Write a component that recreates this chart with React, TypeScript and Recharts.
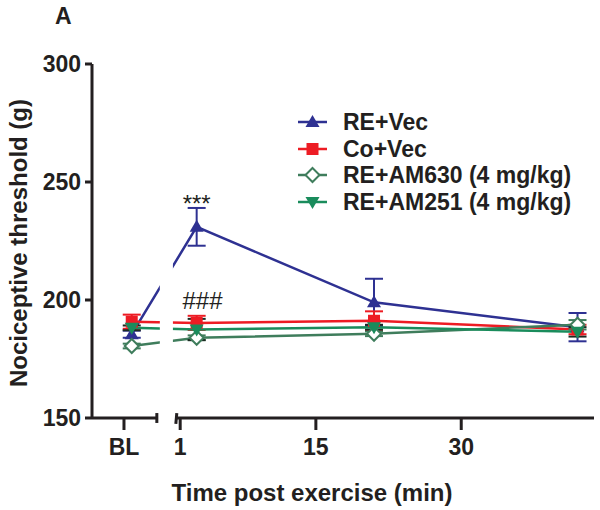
import React from 'react'
import {
    LineChart, Line, XAxis, YAxis, ErrorBar, Legend,
    ReferenceLine, ReferenceArea, ReferenceDot,
} from 'recharts'

// x positions: BL is placed left of the axis break, the rest are minutes
const timePoints = [-4, 2.7, 21, 42]

const reVec = [185.5, 231, 199, 188.5]
const reVecSem = [1.5, 8, 10, 6]
const coVec = [190.8, 190.3, 191.2, 187.5]
const coVecSem = [3, 3, 4, 2]
const reAm630 = [180.5, 184, 185.7, 189.5]
const reAm630Sem = [1, 1, 1, 2]
const reAm251 = [188.2, 187.5, 188.5, 186.5]
const reAm251Sem = [1, 4.5, 1, 2]

const xTicks = [-4.8, 1, 15, 30]
const xTickLabels = ['BL', '1', '15', '30']
const yTicks = [150, 200, 250, 300]

const annotations = [
    { x: 2.7, y: 240.8, text: '***', size: 24 },
    { x: 3.3, y: 199.6, text: '###', size: 24 },
]

const FONT = '"Liberation Sans", Arial, sans-serif'
const INK = '#231f20'

const series = [
    { key: 'reVec', err: 'reVecSem', name: 'RE+Vec', color: '#2e3192', shape: 'up' },
    { key: 'coVec', err: 'coVecSem', name: 'Co+Vec', color: '#ed1c24', shape: 'square' },
    { key: 'reAm630', err: 'reAm630Sem', name: 'RE+AM630 (4 mg/kg)', color: '#3f7d5c', shape: 'diamond' },
    { key: 'reAm251', err: 'reAm251Sem', name: 'RE+AM251 (4 mg/kg)', color: '#1a8c5c', shape: 'down' },
]

const data = timePoints.map((t, i) => ({
    t,
    reVec: reVec[i], reVecSem: reVecSem[i],
    coVec: coVec[i], coVecSem: coVecSem[i],
    reAm630: reAm630[i], reAm630Sem: reAm630Sem[i],
    reAm251: reAm251[i], reAm251Sem: reAm251Sem[i],
}))

function Marker({ cx, cy, shape, color }: { cx: number, cy: number, shape: string, color: string }) {
    if (cx == null || cy == null) return null
    if (shape === 'up') {
        return <polygon points={`${cx},${cy - 7} ${cx - 7},${cy + 5} ${cx + 7},${cy + 5}`} fill={color} />
    }
    if (shape === 'down') {
        return <polygon points={`${cx},${cy + 7} ${cx - 7},${cy - 5} ${cx + 7},${cy - 5}`} fill={color} />
    }
    if (shape === 'square') {
        return <rect x={cx - 6} y={cy - 6} width={12} height={12} fill={color} />
    }
    return (
        <polygon
            points={`${cx},${cy - 7} ${cx + 7},${cy} ${cx},${cy + 7} ${cx - 7},${cy}`}
            fill="#fff" stroke={color} strokeWidth={2}
        />
    )
}

function LegendBox() {
    return (
        <div style={{ fontFamily: FONT, fontWeight: 'bold', fontSize: 23, color: INK }}>
            {series.map(s => (
                <div key={s.key} style={{ display: 'flex', alignItems: 'center', height: 26.5, lineHeight: '26px', whiteSpace: 'nowrap' }}>
                    <svg width={51} height={26} style={{ flex: 'none' }}>
                        <line x1={6} x2={35} y1={13} y2={13} stroke={s.color} strokeWidth={2.5} />
                        <Marker cx={20.5} cy={13} shape={s.shape} color={s.color} />
                    </svg>
                    <span>{s.name}</span>
                </div>
            ))}
        </div>
    )
}

export default function App() {
    return (
        <div style={{ position: 'absolute', left: 0, top: 0, width: 600, height: 510, background: '#fff' }}>
            <div style={{ position: 'absolute', left: 55, top: 3, fontFamily: FONT, fontWeight: 'bold', fontSize: 23, color: INK }}>A</div>
            <LineChart
                width={600}
                height={510}
                data={data}
                margin={{ top: 64, right: 6, bottom: 0, left: 32 }}
                style={{ fontFamily: FONT }}
            >
                <XAxis
                    dataKey="t"
                    type="number"
                    domain={[-8.1, 43.7]}
                    allowDataOverflow
                    ticks={xTicks}
                    tickFormatter={(v: number) => xTickLabels[xTicks.indexOf(v)]}
                    height={92}
                    axisLine={false}
                    tickLine={{ stroke: INK, strokeWidth: 3 }}
                    tickSize={12}
                    tickMargin={9}
                    tick={{ fontSize: 23, fontWeight: 'bold', fill: INK, fontFamily: FONT }}
                    label={(props: any) => {
                        const vb = props.viewBox
                        return (
                            <text x={vb.x + 220} y={vb.y + vb.height - 9} textAnchor="middle"
                                fontSize={24} fontWeight="bold" fill={INK} fontFamily={FONT}>
                                Time post exercise (min)
                            </text>
                        )
                    }}
                />
                <YAxis
                    type="number"
                    domain={[150, 300]}
                    ticks={yTicks}
                    width={60}
                    axisLine={{ stroke: INK, strokeWidth: 3 }}
                    tickLine={{ stroke: INK, strokeWidth: 3 }}
                    tickSize={7}
                    tickMargin={4}
                    tick={{ fontSize: 23, fontWeight: 'bold', fill: INK, fontFamily: FONT }}
                    label={(props: any) => {
                        const vb = props.viewBox
                        const x = 18
                        const y = vb.y + vb.height / 2 + 2
                        return (
                            <text x={x} y={y} transform={`rotate(-90 ${x} ${y})`} textAnchor="middle"
                                dominantBaseline="central" fontSize={24} fontWeight="bold" fill={INK} fontFamily={FONT}>
                                Nociceptive threshold (g)
                            </text>
                        )
                    }}
                />

                {series.map(s => (
                    <Line
                        key={s.key}
                        dataKey={s.key}
                        name={s.name}
                        stroke={s.color}
                        strokeWidth={2.5}
                        isAnimationActive={false}
                        dot={(p: any) => <Marker key={`${s.key}-${p.index}`} cx={p.cx} cy={p.cy} shape={s.shape} color={s.color} />}
                        activeDot={false}
                    >
                        <ErrorBar dataKey={s.err} width={9} stroke={s.key === 'reAm251' ? '#1c2a22' : s.color} strokeWidth={2} />
                    </Line>
                ))}

                {/* break in the data lines between BL and the first post point */}
                <ReferenceArea x1={-1.1} x2={0.25} y1={151} y2={300} fill="#fff" fillOpacity={1} stroke="none" ifOverflow="visible" zIndex={2000} />

                {/* broken x axis */}
                <ReferenceLine segment={[{ x: -8.1, y: 150 }, { x: -1.41, y: 150 }]} stroke={INK} strokeWidth={3} ifOverflow="visible" />
                <ReferenceLine segment={[{ x: 0.65, y: 150 }, { x: 43.7, y: 150 }]} stroke={INK} strokeWidth={3} ifOverflow="visible" />
                <ReferenceLine segment={[{ x: -1.41, y: 152.1 }, { x: -1.41, y: 147.9 }]} stroke={INK} strokeWidth={3} ifOverflow="visible" />
                <ReferenceLine segment={[{ x: 0.65, y: 152.1 }, { x: 0.55, y: 147.5 }]} stroke={INK} strokeWidth={3} ifOverflow="visible" />

                {annotations.map(a => (
                    <ReferenceDot
                        key={a.text}
                        x={a.x}
                        y={a.y}
                        r={0}
                        fill="none"
                        stroke="none"
                        label={{ value: a.text, position: 'center', fontSize: a.size, fill: INK, fontFamily: FONT }}
                    />
                ))}

                <Legend
                    layout="vertical"
                    align="center"
                    verticalAlign="middle"
                    content={() => <LegendBox />}
                    wrapperStyle={{ top: 108.75, left: 292, width: 300 }}
                />
            </LineChart>
        </div>
    )
}
